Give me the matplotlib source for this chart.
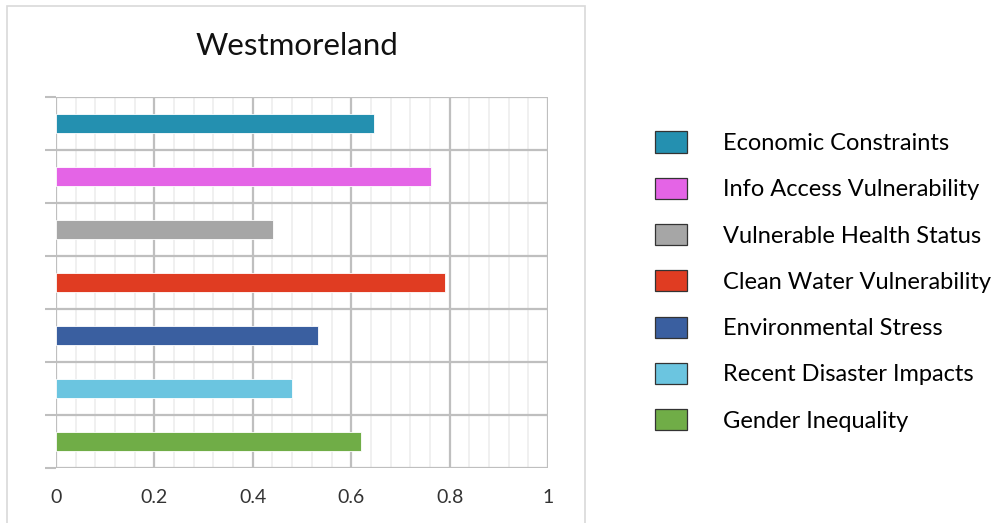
import matplotlib
matplotlib.use("Agg")
import matplotlib.pyplot as plt
from matplotlib.patches import Patch, Rectangle
from matplotlib.ticker import MultipleLocator

plt.rcParams['font.family'] = ['Lato', 'DejaVu Sans']

categories = ["Economic Constraints", "Info Access Vulnerability", "Vulnerable Health Status",
              "Clean Water Vulnerability", "Environmental Stress", "Recent Disaster Impacts",
              "Gender Inequality"]
values = [0.646, 0.762, 0.441, 0.791, 0.533, 0.480, 0.620]
colors = ["#2490B0", "#E464E6", "#A6A6A6", "#E03C22", "#3A5FA0", "#6BC5E0", "#70AD47"]
xticks = [0, 0.2, 0.4, 0.6, 0.8, 1]
xticklabels = ["0", "0.2", "0.4", "0.6", "0.8", "1"]
title = "Westmoreland"

W, H = 1004, 523
fig = plt.figure(figsize=(W / 100, H / 100), dpi=100)

# chart border
fig.patches.append(Rectangle((7 / W, -0.05), (585 - 7) / W, 1.05 - 6 / H,
                             transform=fig.transFigure, fill=False,
                             edgecolor="#D9D9D9", linewidth=1.2))

ax = fig.add_axes([56 / W, 1 - 468 / H, (548 - 56) / W, (468 - 97) / H])
n = len(categories)
ypos = [n - 1 - i for i in range(n)]
ax.barh(ypos, values, height=0.37, color=colors, edgecolor="white", linewidth=0.6, zorder=3)

ax.set_xlim(0, 1)
ax.set_ylim(-0.5, n - 0.5)
ax.set_xticks(xticks)
ax.set_xticklabels(xticklabels, fontsize=14, color="#333333")
ax.xaxis.set_minor_locator(MultipleLocator(0.04))
ax.set_yticks([k - 0.5 for k in range(n + 1)])
ax.set_yticklabels([])
ax.tick_params(axis="x", which="both", length=0, pad=15)
ax.tick_params(axis="y", length=8, width=1.5, color="#BFBFBF", direction="out")
ax.grid(axis="x", which="major", color="#BFBFBF", linewidth=1.6, zorder=1)
ax.grid(axis="x", which="minor", color="#EDEDED", linewidth=1.2, zorder=0)
ax.grid(axis="y", which="major", color="#BFBFBF", linewidth=1.6, zorder=1)
for s in ax.spines.values():
    s.set_visible(False)
ax.set_axisbelow(True)

fig.text(297 / W, 1 - 46 / H, title, ha="center", va="center", fontsize=22.5, color="#111111")

handles = [Patch(facecolor=c, edgecolor="#333333", linewidth=0.9) for c in colors]
leg = fig.legend(handles, categories, loc="upper left",
                 bbox_to_anchor=(646 / W, 1 - 122 / H), frameon=False,
                 fontsize=17, handlelength=1.35, handleheight=1.0,
                 handletextpad=1.5, labelspacing=1.0, borderaxespad=0)

fig.savefig("out.png", dpi=100)
